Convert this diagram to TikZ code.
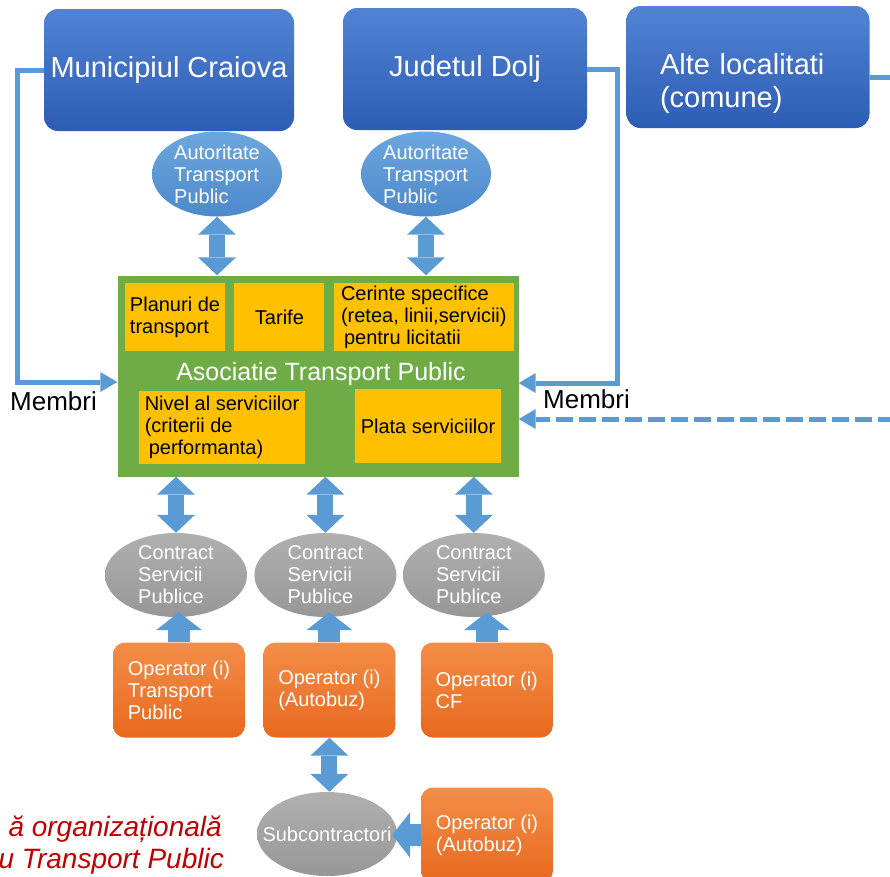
\documentclass[tikz,border=0pt]{standalone}
\usepackage{fontspec}
\setmainfont{Liberation Sans}
\usetikzlibrary{shapes.geometric,arrows.meta,positioning}
\definecolor{memberTop}{HTML}{5283D3}
\definecolor{memberBot}{HTML}{2D5CB4}
\definecolor{atpTop}{HTML}{6CA6DE}
\definecolor{atpBot}{HTML}{4D8ACB}
\definecolor{assocGreen}{HTML}{6FAC46}
\definecolor{taskYellow}{HTML}{FFC000}
\definecolor{greyTop}{HTML}{B0B0B0}
\definecolor{greyBot}{HTML}{979797}
\definecolor{opTop}{HTML}{F38D48}
\definecolor{opBot}{HTML}{E8691E}
\definecolor{linkBlue}{HTML}{5B9BD5}
\definecolor{capRed}{HTML}{C00000}
\tikzstyle{member} = [rectangle, rounded corners=14pt, top color=memberTop, bottom color=memberBot,
    text=white, minimum width=250pt, minimum height=122pt, font=\fontsize{29}{33}\selectfont]
\tikzstyle{authority} = [ellipse, top color=atpTop, bottom color=atpBot, text=white, inner sep=0pt,
    minimum width=130pt, minimum height=85pt, align=left, font=\fontsize{20}{22}\selectfont]
\tikzstyle{assoc} = [rectangle, fill=assocGreen, minimum width=401pt, minimum height=201pt]
\tikzstyle{title} = [text=white, font=\fontsize{25}{28}\selectfont]
\tikzstyle{task} = [rectangle, fill=taskYellow, inner sep=2pt, align=left,
    minimum height=68pt, font=\fontsize{20}{22}\selectfont]
\tikzstyle{contract} = [ellipse, top color=greyTop, bottom color=greyBot, text=white, inner sep=0pt,
    minimum width=142pt, minimum height=84pt, align=left, font=\fontsize{20}{22}\selectfont]
\tikzstyle{operator} = [rectangle, rounded corners=12pt, top color=opTop, bottom color=opBot,
    text=white, minimum width=132pt, minimum height=95pt, align=left, font=\fontsize{20}{22}\selectfont]
\tikzstyle{membri} = [anchor=base west, inner sep=0pt, font=\fontsize{26}{28}\selectfont]
\tikzstyle{caption} = [anchor=base east, inner sep=0pt, text=capRed, font=\fontsize{28}{32}\itshape]
\tikzstyle{link} = [draw=linkBlue, line width=5pt]
\tikzstyle{member link} = [link, -{Triangle[width=20pt,length=17pt,line width=0pt]}]
\tikzstyle{dbl} = [draw=linkBlue, line width=16pt,
    {Triangle[width=38pt,length=18pt,line width=0pt]}-{Triangle[width=38pt,length=18pt,line width=0pt]}]
\tikzstyle{single} = [draw=linkBlue, line width=22pt, shorten >=-5pt,
    -{Triangle[width=46pt,length=18pt,line width=0pt]}]

\begin{document}
\begin{tikzpicture}[x=1pt, y=-1pt]
    \path [use as bounding box, clip] (0,0) rectangle (890,876);
    \node [member] (craiova) at (169,70) {Municipiul Craiova};
    \node [member, minimum width=244pt] (dolj) at (465,69) {Judetul Dolj};
    \node [member, minimum width=243pt, text width=176pt, align=left, text depth=6pt] (alte) at (748,67) {Alte localitati\\(comune)};
    \node [authority] (atp1) at (217,174) {Autoritate\\Transport\\Public};
    \node [authority] (atp2) at (426,174) {Autoritate\\Transport\\Public};
    \node [assoc] (asoc) at (318,376) {};
    \node [task, minimum width=100pt] (plan) at (175,317) {Planuri de\\transport};
    \node [task, minimum width=90pt, right=9pt of plan] (tarife) {Tarife};
    \node [task, minimum width=180pt, right=9pt of tarife] (cerinte) {Cerinte specifice\\(retea, linii,servicii)\\\hspace{3pt}pentru licitatii};
    \node [title] (asoctitle) at (321,374) {Asociatie Transport Public};
    \node [task, minimum width=166pt, minimum height=73pt] (nivel) at (222,427) {Nivel al serviciilor\\(criterii de\\\hspace{4pt}performanta)};
    \node [task, minimum width=146pt, minimum height=74pt] (plata) at (428,426) {Plata serviciilor};
    \node [contract] (cs1) at (176,575) {Contract\\Servicii\\Publice};
    \node [contract, right=7pt of cs1] (cs2) {Contract\\Servicii\\Publice};
    \node [contract, right=6pt of cs2] (cs3) {Contract\\Servicii\\Publice};
    \node [operator] (op1) at (179,690) {Operator (i)\\Transport\\Public};
    \node [operator, right=18pt of op1] (op2) {Operator (i)\\(Autobuz)};
    \node [operator, right=25pt of op2] (op3) {Operator (i)\\CF};
    \node [contract, minimum width=140pt] (sub) at (327,834) {\makebox[0pt]{Subcontractori}};
    \node [operator] (op4) at (487,835) {Operator (i)\\(Autobuz)};
    \node [membri] (membri1) at (10,410) {Membri};
    \node [membri] (membri2) at (543,408) {Membri};
    \node [caption] (cap1) at (222,836) {ă organizațională};
    \node [caption] (cap2) at (224,868) {u Transport Public};
    \coordinate (lbend) at (17,382);
    \coordinate (rbend) at (617,383);
    \coordinate (alteout) at (895,77);
    \coordinate (dashin) at (895,419);
    \draw [member link] (craiova.west) -| (lbend) -- (lbend -| asoc.west);
    \draw [member link] (dolj.east) -| (rbend) -- (rbend -| asoc.east);
    \draw [link] (alte.east |- alteout) -- (alteout);
    \draw [member link, dash pattern=on 17pt off 6pt] (dashin) -- (dashin -| asoc.east);
    \draw [dbl] (atp1.south) -- (atp1.south |- asoc.north);
    \draw [dbl] (atp2.south) -- (atp2.south |- asoc.north);
    \foreach \c in {cs1,cs2,cs3}
        \draw [dbl] (\c.north |- asoc.south) -- (\c.north);
    \foreach \o/\c in {op1/cs1,op2/cs2,op3/cs3}
        \draw [single] (\o.north) -- (\o.north |- \c.south);
    \draw [dbl] (op2.south) -- (op2.south |- sub.north);
    \draw [single] (op4.west) -- (op4.west -| sub.east);
\end{tikzpicture}
\end{document}
